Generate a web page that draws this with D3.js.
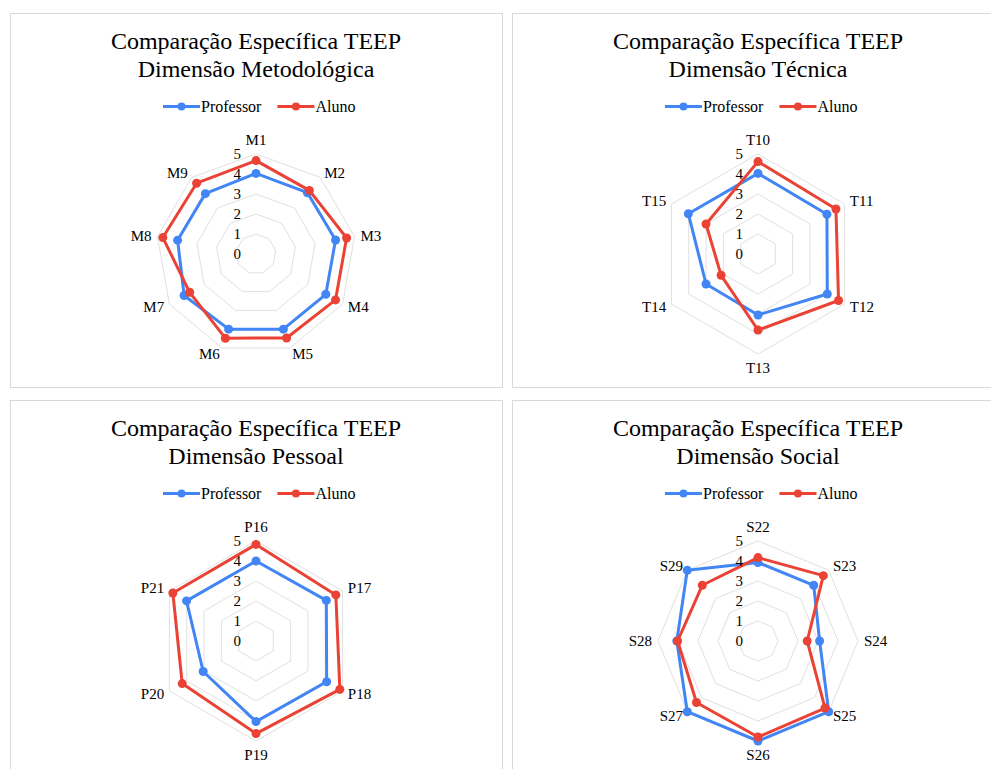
<!DOCTYPE html>
<html>
<head>
<meta charset="utf-8">
<script src="https://cdn.jsdelivr.net/npm/d3@7"></script>
<style>
  body { margin: 0; background: #fff; }
  svg { display: block; }
  text { font-family: "Liberation Serif", "Times New Roman", serif; fill: #000; }
</style>
</head>
<body>
<svg id="chart" width="991" height="769"></svg>
<script>
// Series names and colours
const seriesNames = ["Professor", "Aluno"];
const seriesColors = ["#4285F4", "#EA4335"];
const titleLine1 = "Comparação Específica TEEP";
const ticks = [0, 1, 2, 3, 4, 5];

// Dimensão Metodológica
const metodCategories = ["M1", "M2", "M3", "M4", "M5", "M6", "M7", "M8", "M9"];
const metodProfessor = [4.03, 4.0, 4.04, 4.03, 4.0, 4.0, 4.15, 3.98, 3.94];
const metodAluno = [4.67, 4.15, 4.6, 4.59, 4.47, 4.48, 3.83, 4.73, 4.62];

// Dimensão Técnica
const tecCategories = ["T10", "T11", "T12", "T13", "T14", "T15"];
const tecProfessor = [4.03, 3.98, 4.0, 3.05, 3.0, 4.02];
const tecAluno = [4.62, 4.5, 4.65, 3.8, 2.13, 3.0];

// Dimensão Pessoal
const pesCategories = ["P16", "P17", "P18", "P19", "P20", "P21"];
const pesProfessor = [4.0, 4.06, 4.08, 4.03, 3.05, 4.01];
const pesAluno = [4.83, 4.61, 4.84, 4.63, 4.26, 4.8];

// Dimensão Social
const socCategories = ["S22", "S23", "S24", "S25", "S26", "S27", "S28", "S29"];
const socProfessor = [3.92, 3.94, 3.08, 5.0, 5.0, 5.0, 4.06, 5.0];
const socAluno = [4.17, 4.62, 2.46, 4.74, 4.8, 4.35, 4.02, 3.94];

const panels = [
  { x: 10, y: 13, subtitle: "Dimensão Metodológica", cats: metodCategories, series: [metodProfessor, metodAluno] },
  { x: 512, y: 13, subtitle: "Dimensão Técnica", cats: tecCategories, series: [tecProfessor, tecAluno] },
  { x: 10, y: 400, subtitle: "Dimensão Pessoal", cats: pesCategories, series: [pesProfessor, pesAluno] },
  { x: 512, y: 400, subtitle: "Dimensão Social", cats: socCategories, series: [socProfessor, socAluno] }
];

const PW = 492, PH = 374;
const svg = d3.select("#chart");

panels.forEach(p => {
  const g = svg.append("g").attr("transform", `translate(${p.x},${p.y})`);
  g.append("rect")
    .attr("x", 0.5).attr("y", 0.5)
    .attr("width", PW).attr("height", PH)
    .attr("fill", "#fff").attr("stroke", "#d9d9d9").attr("stroke-width", 1);

  const cx = PW / 2;

  // Title
  g.append("text").attr("x", cx).attr("y", 35.5)
    .attr("text-anchor", "middle").style("font-size", "24px").text(titleLine1);
  g.append("text").attr("x", cx).attr("y", 63.5)
    .attr("text-anchor", "middle").style("font-size", "24px").text(p.subtitle);

  // Legend
  const legY = 93.5;
  let lx = cx - 93;
  seriesNames.forEach((name, i) => {
    g.append("line").attr("x1", lx).attr("x2", lx + 37)
      .attr("y1", legY).attr("y2", legY)
      .attr("stroke", seriesColors[i]).attr("stroke-width", 3);
    g.append("circle").attr("cx", lx + 18.5).attr("cy", legY).attr("r", 4)
      .attr("fill", seriesColors[i]);
    const t = g.append("text").attr("x", lx + 38).attr("y", legY + 5.5)
      .style("font-size", "16px").text(name);
    lx = lx + 38 + t.node().getComputedTextLength() + 16;
  });

  // Radar
  const cy = 241;
  const n = p.cats.length;
  const r = d3.scaleLinear().domain([0, 5]).range([0, 100]);
  const angle = d3.scalePoint().domain(p.cats).range([0, 2 * Math.PI * (n - 1) / n]);
  const rg = g.append("g").attr("transform", `translate(${cx},${cy})`);

  const ringLine = d3.lineRadial().angle(d => angle(d)).radius(0).curve(d3.curveLinearClosed);
  ticks.filter(t => t > 0).forEach(t => {
    rg.append("path")
      .attr("d", d3.lineRadial().angle(d => angle(d)).radius(r(t)).curve(d3.curveLinearClosed)(p.cats))
      .attr("fill", "none").attr("stroke", "#e0e0e0").attr("stroke-width", 1);
  });

  // Series
  p.series.forEach((vals, si) => {
    const pts = p.cats.map((c, i) => ({ c, v: vals[i] }));
    rg.append("path")
      .attr("d", d3.lineRadial().angle(d => angle(d.c)).radius(d => r(d.v)).curve(d3.curveLinearClosed)(pts))
      .attr("fill", "none").attr("stroke", seriesColors[si])
      .attr("stroke-width", 3).attr("stroke-linejoin", "round");
    rg.selectAll(null).data(pts).enter().append("circle")
      .attr("cx", d => r(d.v) * Math.sin(angle(d.c)))
      .attr("cy", d => -r(d.v) * Math.cos(angle(d.c)))
      .attr("r", 4.5).attr("fill", seriesColors[si]);
  });

  // Tick labels
  rg.selectAll(null).data(ticks).enter().append("text")
    .attr("x", -15).attr("y", d => -r(d))
    .attr("dy", "0.35em").attr("text-anchor", "end")
    .style("font-size", "15px").text(d => d);

  // Category labels
  p.cats.forEach(c => {
    const a = angle(c);
    const lr = r(5) + 6;
    const x = lr * Math.sin(a), y = -lr * Math.cos(a);
    const sx = Math.sin(a), cyv = Math.cos(a);
    let anchor = "middle";
    if (sx > 0.01) anchor = "start"; else if (sx < -0.01) anchor = "end";
    let dy = "0.35em";
    if (Math.abs(sx) <= 0.01) dy = cyv > 0 ? "-0.2em" : "0.85em";
    rg.append("text").attr("x", x).attr("y", y).attr("dy", dy)
      .attr("text-anchor", anchor).style("font-size", "15px").text(c);
  });
});
</script>
</body>
</html>
